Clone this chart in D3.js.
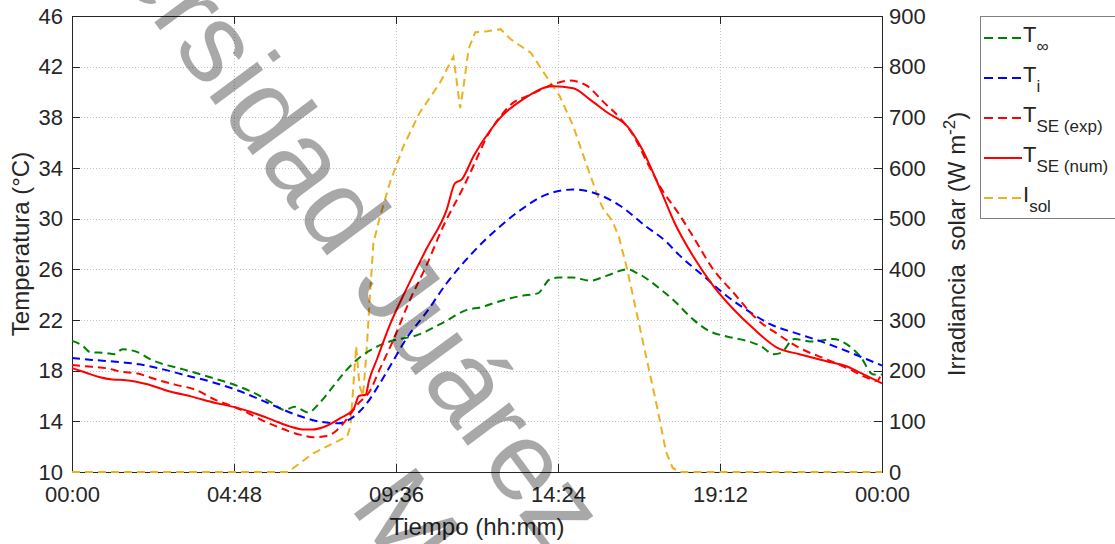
<!DOCTYPE html>
<html><head><meta charset="utf-8">
<script src="https://cdn.jsdelivr.net/npm/d3@7"></script>
<style>
body{margin:0;background:#fff}
svg{display:block}
text{font-family:"Liberation Sans",Arial,Helvetica,sans-serif;fill:#262626}
</style>
</head><body>
<svg id="chart" width="1115" height="544"></svg>
<script>
// ---------------- data ----------------
const xTickVals   = [0, 4.8, 9.6, 14.4, 19.2, 24];
const xTickLabels = ["00:00", "04:48", "09:36", "14:24", "19:12", "00:00"];
const yLeftTicks  = [10, 14, 18, 22, 26, 30, 34, 38, 42, 46];
const yRightTicks = [0, 100, 200, 300, 400, 500, 600, 700, 800, 900];

// T_inf (ambient) [h], [°C]
const tInfT = [0,0.3,0.55,1.0,1.25,1.5,1.9,2.4,3.3,4.2,4.9,5.5,5.9,6.3,6.6,7.0,7.35,7.75,8.15,8.55,8.9,9.3,9.7,10.1,11.0,11.7,12.1,12.7,13.3,13.8,14.15,14.4,14.85,15.35,15.85,16.45,16.75,17.45,17.85,18.4,18.9,19.4,20.0,20.4,20.8,21.0,21.4,21.95,22.55,22.95,23.35,23.75,24];
const tInfV = [20.35,20.0,19.45,19.4,19.3,19.7,19.5,18.8,18.1,17.4,16.8,16.1,15.5,14.9,15.15,14.7,15.5,16.8,18.1,19.1,19.7,20.2,20.5,20.7,21.8,22.8,23.0,23.5,23.9,24.1,25.2,25.35,25.35,25.1,25.5,26.0,25.7,24.4,23.5,22.05,21.1,20.7,20.35,19.95,19.3,19.4,20.5,20.3,20.5,20.1,19.15,17.7,17.7];

// T_i (interior)
const tIT = [0,0.6,1.3,2.0,2.7,3.35,4.15,4.85,5.5,6.15,6.55,7.0,7.4,7.9,8.25,8.7,9.1,9.5,9.9,10.5,11.1,11.9,12.6,13.3,14.05,14.85,15.45,16.25,17.0,17.6,18.0,18.7,19.4,20.1,20.7,21.4,22.15,22.95,23.55,24];
const tIV = [19.0,18.85,18.7,18.5,18.1,17.65,17.1,16.5,15.8,15.05,14.6,14.2,13.95,13.85,14.2,15.3,16.9,18.7,20.5,22.6,24.9,27.4,29.2,30.7,31.9,32.3,32.05,31.0,29.4,28.2,27.1,25.5,23.9,22.6,21.65,21.0,20.35,19.55,18.9,18.4];

// T_SE experimental
const tExpT = [0,0.6,1.0,1.5,1.9,2.5,3.05,3.65,4.25,4.75,5.15,5.55,6.15,6.75,7.15,7.55,7.85,8.15,8.45,8.85,9.1,9.5,10.0,10.5,11.0,11.6,11.9,12.3,12.7,13.0,13.6,14.35,14.75,15.25,15.75,16.25,16.65,17.05,17.5,17.95,18.4,19.0,19.6,20.3,20.9,21.55,22.35,23.05,23.55,23.85,24];
const tExpV = [18.45,18.3,18.2,17.9,17.8,17.3,16.9,16.5,15.7,15.2,14.75,14.2,13.5,12.95,12.75,12.85,13.3,14.2,15.3,16.5,18.0,20.3,23.5,26.3,29.4,32.5,34.2,36.5,38.1,39.0,39.8,40.7,40.9,40.5,39.2,37.9,36.5,34.4,32.2,30.5,28.6,26.0,24.15,22.05,20.9,19.8,18.9,18.1,17.45,17.2,17.9];

// T_SE numerical
const tNumT = [0,0.4,0.8,1.2,1.6,2.2,2.85,3.55,4.25,4.85,5.45,5.95,6.45,6.9,7.1,7.55,7.95,8.35,8.5,8.7,8.8,9.05,9.4,9.9,10.5,11.1,11.35,11.55,11.9,12.4,12.7,13.35,14.25,14.85,15.35,15.85,16.45,16.85,17.45,17.85,18.4,19.0,19.6,20.2,20.9,21.55,22.35,22.95,23.35,24];
const tNumV = [18.2,17.85,17.5,17.3,17.25,16.95,16.4,15.95,15.45,15.1,14.6,14.1,13.6,13.35,13.35,13.65,14.25,15.0,16.0,16.1,17.2,19.0,21.5,24.4,27.6,30.7,32.8,33.1,34.95,37.0,38.0,39.4,40.45,40.3,39.4,38.4,37.3,35.7,32.2,29.7,27.05,24.7,22.85,21.3,19.8,19.3,18.75,18.35,17.85,17.0];

// I_sol (W m^-2)
const iSolT = [0,6.4,7.15,7.75,8.15,8.25,8.42,8.52,8.62,8.72,8.82,8.93,9.13,9.42,9.82,10.3,10.9,11.3,11.42,11.5,11.6,11.75,11.95,12.3,12.7,13.0,13.6,14.05,14.45,14.85,15.2,15.6,15.75,16.0,16.2,16.45,16.75,17.05,17.35,17.6,17.8,18.0,24];
const iSolV = [0,0,37,57,70,90,248,170,150,230,340,452,505,571,643,709,768,820,760,718,760,835,868,870,874,854,827,781,742,683,615,540,518,497,465,400,308,216,124,40,8,0,0];

// ---------------- chart ----------------
const svg = d3.select("#chart");
const L = 72, R = 882, T = 16, B = 472;
const x  = d3.scaleLinear().domain([0, 24]).range([L, R]);
const yL = d3.scaleLinear().domain([10, 46]).range([B, T]);
const yR = d3.scaleLinear().domain([0, 900]).range([B, T]);
const FONT = "Liberation Sans, Arial, sans-serif";

// grid
const grid = svg.append("g").attr("stroke", "#c4c4c4").attr("stroke-width", 1).attr("stroke-dasharray", "1,2");
xTickVals.slice(1, -1).forEach(v => grid.append("line")
  .attr("x1", Math.round(x(v)) + 0.5).attr("x2", Math.round(x(v)) + 0.5).attr("y1", T).attr("y2", B));
yLeftTicks.slice(1, -1).forEach(v => grid.append("line")
  .attr("x1", L).attr("x2", R).attr("y1", Math.round(yL(v)) + 0.5).attr("y2", Math.round(yL(v)) + 0.5));

// axes frame
const ax = svg.append("g").attr("stroke", "#262626").attr("stroke-width", 1).attr("shape-rendering", "crispEdges");
ax.append("line").attr("x1", L).attr("x2", R + 1).attr("y1", B + 0.5).attr("y2", B + 0.5);
ax.append("line").attr("x1", L).attr("x2", R + 1).attr("y1", T + 0.5).attr("y2", T + 0.5);
ax.append("line").attr("x1", L + 0.5).attr("x2", L + 0.5).attr("y1", T).attr("y2", B);
ax.append("line").attr("x1", R + 0.5).attr("x2", R + 0.5).attr("y1", T).attr("y2", B);

// x axis
const xAxisB = d3.axisBottom(x).tickValues(xTickVals).tickFormat((d, i) => xTickLabels[i]).tickSize(0).tickPadding(14);
const gx = svg.append("g").attr("transform", `translate(0,${B})`).call(xAxisB);
gx.select(".domain").remove();
gx.selectAll("text").attr("font-size", 22).attr("font-family", FONT).attr("fill", "#262626");
xTickVals.forEach(v => {
  const px = Math.round(x(v)) + 0.5;
  ax.append("line").attr("x1", px).attr("x2", px).attr("y1", B).attr("y2", B - 8);
  ax.append("line").attr("x1", px).attr("x2", px).attr("y1", T).attr("y2", T + 8);
});

// left axis
const yAxisL = d3.axisLeft(yL).tickValues(yLeftTicks).tickSize(0).tickPadding(9);
const gyl = svg.append("g").attr("transform", `translate(${L},0)`).call(yAxisL);
gyl.select(".domain").remove();
gyl.selectAll("text").attr("font-size", 22).attr("font-family", FONT).attr("fill", "#262626");
yLeftTicks.forEach(v => ax.append("line").attr("x1", L).attr("x2", L + 8).attr("y1", Math.round(yL(v)) + 0.5).attr("y2", Math.round(yL(v)) + 0.5));

// right axis
const yAxisR = d3.axisRight(yR).tickValues(yRightTicks).tickSize(0).tickPadding(7);
const gyr = svg.append("g").attr("transform", `translate(${R},0)`).call(yAxisR);
gyr.select(".domain").remove();
gyr.selectAll("text").attr("font-size", 22).attr("font-family", FONT).attr("fill", "#000");
yRightTicks.forEach(v => ax.append("line").attr("x1", R - 8).attr("x2", R).attr("y1", Math.round(yR(v)) + 0.5).attr("y2", Math.round(yR(v)) + 0.5));

// lines (drawn over the frame)
const mk = (tt, vv) => tt.map((t, i) => [t, vv[i]]);
const lineL = d3.line().x(d => x(d[0])).y(d => yL(d[1])).curve(d3.curveMonotoneX);
const lineR = d3.line().x(d => x(d[0])).y(d => yR(d[1])).curve(d3.curveLinear);
const DASH = "8,5";
const series = [
  {data: mk(tInfT, tInfV), color: "#008000", dash: DASH},
  {data: mk(tIT, tIV),     color: "#0000ff", dash: DASH},
  {data: mk(tExpT, tExpV), color: "#ff0000", dash: DASH},
  {data: mk(tNumT, tNumV), color: "#ff0000", dash: null},
];
const plot = svg.append("g");
plot.append("path").datum(mk(iSolT, iSolV)).attr("d", lineR)
  .attr("fill", "none").attr("stroke", "#EDB120").attr("stroke-width", 2).attr("stroke-dasharray", DASH);
series.forEach(s => plot.append("path").datum(s.data).attr("d", lineL)
  .attr("fill", "none").attr("stroke", s.color).attr("stroke-width", 2)
  .attr("stroke-dasharray", s.dash));

// axis titles
svg.append("text").attr("transform", `translate(29,${(T + B) / 2}) rotate(-90)`)
  .attr("text-anchor", "middle").attr("font-size", 24).attr("fill", "#000").text("Temperatura (°C)");
const yrT = svg.append("text").attr("transform", `translate(965,${(T + B) / 2}) rotate(-90)`)
  .attr("text-anchor", "middle").attr("font-size", 24).attr("fill", "#000").style("white-space", "pre");
yrT.append("tspan").text("Irradiancia  solar (W m");
yrT.append("tspan").attr("font-size", 17).attr("dy", -10).text("-2");
yrT.append("tspan").attr("dy", 10).text(")");
svg.append("text").attr("x", (L + R) / 2).attr("y", 535).attr("text-anchor", "middle")
  .attr("font-size", 24).attr("fill", "#262626").text("Tiempo (hh:mm)");

// legend
const lg = svg.append("g");
lg.append("rect").attr("x", 980.5).attr("y", 16.5).attr("width", 200).attr("height", 202)
  .attr("fill", "#fff").attr("stroke", "#808080").attr("stroke-width", 1);
const legItems = [
  {main: "T", sub: "∞", color: "#008000", dash: "9,5"},
  {main: "T", sub: "i", color: "#0000ff", dash: "9,5"},
  {main: "T", sub: "SE (exp)", color: "#ff0000", dash: "9,5"},
  {main: "T", sub: "SE (num)", color: "#ff0000", dash: null},
  {main: "I", sub: "sol", color: "#EDB120", dash: "9,5"},
];
const rowY = [38, 78, 118, 158, 198];
legItems.forEach((it, i) => {
  const y0 = rowY[i];
  lg.append("line").attr("x1", 984).attr("x2", 1022).attr("y1", y0).attr("y2", y0)
    .attr("stroke", it.color).attr("stroke-width", 2).attr("stroke-dasharray", it.dash);
  const t = lg.append("text").attr("x", 1023).attr("y", y0 + 4).attr("font-size", 22).attr("fill", "#000");
  t.append("tspan").text(it.main);
  t.append("tspan").attr("font-size", 17).attr("dy", 10).text(it.sub);
});

// watermark
const ANG = 53.5, th = ANG * Math.PI / 180;
const wm = svg.append("g").attr("pointer-events", "none");
function wmLine(txt, skip, ox, oy) {
  const el = wm.append("text").attr("font-family", "Liberation Serif, Times New Roman, serif")
    .attr("font-size", 112).style("fill", "#000").attr("fill-opacity", 0.34).text(txt);
  const pre = skip > 0 ? el.node().getSubStringLength(0, skip) : 0;
  el.attr("x", -pre).attr("y", 0).attr("transform", `translate(${ox},${oy}) rotate(${ANG})`);
}
const o1x = 172, o1y = 46;
wmLine("Universidad Juárez Autónoma de Tabasco", 6, o1x, o1y);
const u2 = 475, v2 = 132;
wmLine("México", 0, o1x + u2 * Math.cos(th) - v2 * Math.sin(th), o1y + u2 * Math.sin(th) + v2 * Math.cos(th));
</script>
</body></html>
